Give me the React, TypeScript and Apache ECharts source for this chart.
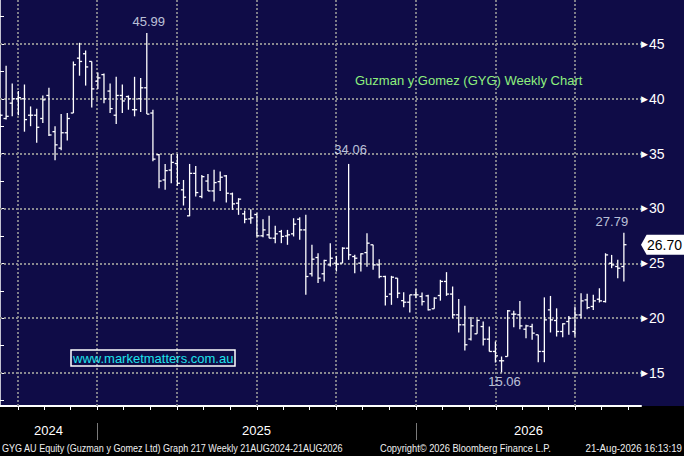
import React, { useEffect, useRef } from "react";
import * as echarts from "echarts";

// Weekly OHLC (one bar per week, oldest first)
const opens = [
  36.0, 38.2, 39.6, 40.0, 40.0, 38.5, 38.5, 38.2, 40.3, 37.0,
  35.5, 36.9, 38.7, 43.7, 44.1, 43.4, 41.6, 42.2, 40.7, 38.5,
  40.3, 40.2, 39.0, 40.0, 41.0, 38.7, 34.9, 32.6, 33.5, 34.1,
  31.7, 29.33, 33.2, 31.09, 32.5, 31.6, 32.45, 32.97, 31.33, 30.48,
  29.51, 29.05, 29.45, 27.51, 27.6, 27.29, 27.9, 27.5, 27.69, 29.02,
  28.05, 24.05, 25.53, 24.05, 24.86, 25.02, 25.02, 26.38, 25.62, 25.02,
  25.98, 26.69, 24.86, 23.8, 22.2, 23.65, 21.6, 21.46, 22.13, 21.98,
  22.04, 20.86, 22.07, 23.35, 22.2, 20.31, 19.4, 18.1, 18.58, 19.24,
  18.09, 16.97, 16.12, 16.51, 20.37, 20.31, 19.0, 19.24, 18.49, 16.97,
  20.76, 19.79, 18.79, 19.7, 18.79, 20.3, 21.67, 21.07, 21.73, 21.52,
  25.01, 24.71, 24.71,
];
const highs = [
  38.6, 43.0, 41.4, 40.7, 41.3, 39.3, 39.1, 40.3, 41.0, 37.5,
  38.6, 38.7, 43.4, 45.1, 44.4, 43.4, 42.4, 42.3, 41.4, 42.0,
  41.3, 40.3, 42.0, 41.9, 45.99, 39.0, 34.97, 34.06, 34.97, 34.97,
  32.6, 34.06, 33.88, 33.06, 33.15, 33.52, 33.37, 33.06, 31.45, 30.94,
  29.81, 29.93, 29.57, 29.02, 29.33, 28.42, 28.05, 28.05, 29.11, 29.2,
  29.42, 26.69, 25.93, 25.32, 26.84, 25.68, 26.47, 34.06, 25.78, 25.93,
  27.75, 26.69, 25.38, 23.86, 23.86, 23.65, 22.37, 22.13, 22.65, 22.34,
  22.13, 21.92, 23.5, 24.2, 22.89, 21.74, 21.13, 20.1, 19.9, 19.7,
  19.24, 17.88, 16.51, 20.76, 20.67, 21.58, 19.4, 19.49, 18.49, 21.9,
  22.03, 20.9, 19.55, 20.2, 21.07, 22.28, 22.22, 22.13, 22.73, 25.92,
  25.77, 25.32, 27.79,
];
const lows = [
  34.7, 38.1, 38.4, 38.5, 37.0, 37.5, 36.0, 37.8, 36.6, 34.4,
  35.3, 36.2, 38.7, 42.1, 41.2, 39.2, 40.9, 39.6, 38.7, 37.7,
  38.7, 39.0, 38.4, 38.8, 38.6, 34.3, 31.85, 31.7, 32.3, 32.06,
  30.27, 29.3, 31.09, 30.94, 31.6, 30.63, 31.6, 30.54, 29.87, 29.42,
  28.66, 28.6, 27.45, 27.38, 27.29, 26.84, 26.84, 26.69, 27.45, 27.14,
  22.13, 23.8, 23.2, 23.35, 24.71, 24.26, 25.02, 25.32, 24.1, 24.26,
  24.7, 24.41, 23.65, 21.16, 21.22, 21.83, 21.0, 20.52, 21.83, 21.16,
  20.71, 20.86, 21.6, 22.04, 20.0, 18.7, 17.06, 17.97, 18.58, 17.51,
  16.97, 15.96, 15.06, 16.51, 19.18, 19.0, 18.18, 18.03, 15.99, 15.99,
  18.7, 18.33, 18.27, 18.49, 18.33, 20.0, 20.82, 20.76, 21.43, 21.43,
  24.56, 23.65, 23.35,
];
const closes = [
  38.5, 38.4, 40.0, 40.1, 38.1, 38.5, 37.4, 39.9, 36.7, 35.8,
  36.9, 38.2, 43.1, 43.4, 42.9, 40.9, 41.9, 40.0, 39.1, 40.3,
  39.8, 40.0, 39.0, 41.0, 38.6, 34.5, 32.5, 33.45, 34.2, 32.3,
  31.03, 33.2, 31.45, 32.9, 31.6, 32.36, 32.85, 31.39, 30.42, 30.85,
  29.02, 29.15, 27.51, 28.05, 27.3, 27.69, 27.45, 27.6, 28.57, 28.05,
  23.8, 25.38, 23.65, 25.26, 25.47, 24.93, 26.38, 25.78, 25.47, 25.87,
  26.84, 24.86, 23.8, 21.98, 23.74, 22.28, 21.46, 22.13, 22.13, 21.52,
  20.77, 21.83, 23.35, 22.2, 20.31, 19.4, 17.58, 19.31, 19.8, 18.09,
  16.97, 16.57, 16.12, 20.67, 20.37, 19.3, 19.3, 18.64, 16.97, 19.85,
  19.85, 18.79, 19.49, 20.0, 20.3, 21.58, 20.97, 21.58, 21.58, 25.77,
  24.86, 24.56, 26.7,
];

// Week indices whose high / low carries a value label
const labelledHighWeeks = [24, 57, 102];
const labelledLowWeeks = [82];

// Axis ticks
const yTickLabels = [15, 20, 25, 30, 35, 40, 45];
const yMinorTicks = [12.5, 15, 17.5, 20, 22.5, 25, 27.5, 30, 32.5, 35, 37.5, 40, 42.5, 45, 47.5];
const quarterStartWeeks = [2.94, 15.86, 28.93, 42.0, 54.9, 68.0, 81.07, 93.98];
const years = ["2024", "2025", "2026"];
const yearStartWeeks = [15.86, 68.0];

const titleText = "Guzman y Gomez (GYG) Weekly Chart";
const siteText = "www.marketmatters.com.au";
const footerLeft = "GYG AU Equity (Guzman y Gomez Ltd) Graph 217 Weekly 21AUG2024-21AUG2026";
const footerMid = "Copyright\u00a9 2026 Bloomberg Finance L.P.";
const footerRight = "21-Aug-2026 16:13:19";

const X_MIN = 0;
const X_MAX = 104.8;
const Y_MIN = 12;
const Y_MAX = 49;

const NAVY = "#0f0c47";
const FONT = "'Liberation Sans', Arial, sans-serif";

export default function App() {
  const ref = useRef<HTMLDivElement>(null);

  useEffect(() => {
    document.body.style.margin = "0";
    if (!ref.current) return;
    const chart = echarts.init(ref.current, undefined, { renderer: "svg" });

    const rows = opens.map((o, i) => [i, o, highs[i], lows[i], closes[i]]);

    const monthTicks: number[] = [];
    quarterStartWeeks.forEach((q, k) => {
      const next = k + 1 < quarterStartWeeks.length ? quarterStartWeeks[k + 1] : q + 13.03;
      const step = (next - q) / 3;
      for (let j = 0; j < 3; j++) {
        const v = q + step * j;
        if (v >= X_MIN && v <= X_MAX) monthTicks.push(v);
      }
    });

    const bounds = [X_MIN, ...yearStartWeeks, X_MAX];
    const yearMids = years.map((_, k) => (bounds[k] + bounds[k + 1]) / 2);

    const lastIdx = closes.length - 1;

    const annot: any[] = [];
    labelledHighWeeks.forEach((w) => {
      annot.push({
        value: [w, highs[w]],
        label: {
          position: "top",
          distance: w === 57 ? 8 : 5,
          offset: w === lastIdx ? [-12, 0] : [2, 0],
        },
      });
    });
    labelledLowWeeks.forEach((w) => {
      annot.push({
        value: [w, lows[w]],
        label: { position: "bottom", distance: 3, offset: [3, 0] },
      });
    });

    const gridLines = [
      ...yTickLabels.map((v) => ({ yAxis: v })),
      ...quarterStartWeeks.map((v) => ({ xAxis: v })),
    ];

    const footerStyle = (text: string, align: string) => ({
      text,
      fill: "#f0f0f0",
      font: `10px ${FONT}`,
      verticalAlign: "middle",
      align,
    });

    chart.setOption({
      animation: false,
      backgroundColor: "#000",
      textStyle: { fontFamily: FONT },
      title: [
        {
          text: titleText,
          left: 355,
          top: 74,
          padding: 0,
          textStyle: { color: "#8ef07e", fontSize: 13, fontWeight: "normal", fontFamily: FONT },
        },
        {
          text: siteText,
          left: 71,
          top: 350,
          padding: [2, 2, 1, 2],
          borderColor: "#ffffff",
          borderWidth: 1.5,
          textStyle: { color: "#1de3ec", fontSize: 13, fontWeight: "normal", fontFamily: FONT },
        },
      ],
      graphic: [
        {
          type: "rect",
          z: -10,
          silent: true,
          shape: { x: 0, y: 0, width: 684, height: 406 },
          style: { fill: NAVY },
        },
        {
          type: "text",
          x: 2,
          y: 448,
          scaleX: 0.905,
          silent: true,
          style: footerStyle(footerLeft, "left"),
        },
        {
          type: "text",
          x: 380,
          y: 448,
          scaleX: 0.93,
          silent: true,
          style: footerStyle(footerMid, "left"),
        },
        {
          type: "text",
          x: 682,
          y: 448,
          scaleX: 0.97,
          silent: true,
          style: footerStyle(footerRight, "right"),
        },
      ],
      grid: { left: 0, right: 43, top: 0, bottom: 50, containLabel: false },
      xAxis: [
        {
          type: "value",
          min: X_MIN,
          max: X_MAX,
          position: "bottom",
          splitLine: { show: false },
          axisLine: { show: true, lineStyle: { color: "#ffffff", width: 2 } },
          axisTick: { show: true, customValues: monthTicks, length: 4, lineStyle: { color: "#ffffff", width: 1 } },
          axisLabel: { show: false },
        },
        {
          type: "value",
          min: X_MIN,
          max: X_MAX,
          position: "bottom",
          offset: 17,
          splitLine: { show: false },
          axisLine: { show: false },
          axisTick: { show: true, customValues: yearStartWeeks, length: 17, lineStyle: { color: "#7a7a7a", width: 1 } },
          axisLabel: {
            show: true,
            customValues: yearMids,
            margin: 1,
            color: "#ffffff",
            fontSize: 13,
            fontFamily: FONT,
            formatter: (v: number) => {
              const k = yearMids.findIndex((m) => Math.abs(m - v) < 1e-6);
              return k >= 0 ? years[k] : "";
            },
          },
        },
      ],
      yAxis: {
        type: "value",
        position: "right",
        min: Y_MIN,
        max: Y_MAX,
        splitLine: { show: false },
        axisLine: { show: true, lineStyle: { color: "#ffffff", width: 1.5 } },
        axisTick: { show: true, customValues: yMinorTicks, length: 4, lineStyle: { color: "#ffffff", width: 1 } },
        axisLabel: {
          show: true,
          customValues: yTickLabels,
          margin: 0,
          formatter: (v: number) => `{t|\u25B6}{n|${v}}`,
          rich: {
            t: { color: "#ffffff", fontSize: 9, fontFamily: "DejaVu Sans", padding: [0, 1, 0, 0] },
            n: { color: "#ffffff", fontSize: 14, fontFamily: FONT },
          },
        },
      },
      series: [
        {
          type: "custom",
          data: rows,
          encode: { x: 0, y: [1, 2, 3, 4] },
          clip: true,
          renderItem: (params: any, api: any) => {
            const x = api.value(0);
            const pH = api.coord([x, api.value(2)]);
            const pL = api.coord([x, api.value(3)]);
            const pO = api.coord([x, api.value(1)]);
            const pC = api.coord([x, api.value(4)]);
            const w = 2.6;
            const st = { stroke: "#ffffff", lineWidth: 1.3 };
            return {
              type: "group",
              children: [
                { type: "line", shape: { x1: pH[0], y1: pH[1], x2: pL[0], y2: pL[1] }, style: st },
                { type: "line", shape: { x1: pO[0] - w, y1: pO[1], x2: pO[0], y2: pO[1] }, style: st },
                { type: "line", shape: { x1: pC[0], y1: pC[1], x2: pC[0] + w, y2: pC[1] }, style: st },
              ],
            };
          },
          markLine: {
            silent: true,
            symbol: ["none", "none"],
            label: { show: false },
            lineStyle: { color: "#8a8a90", type: [2, 2], width: 1.8 },
            data: gridLines,
            z: 1,
          },
          markPoint: {
            silent: true,
            data: [
              {
                coord: [X_MAX, closes[lastIdx]],
                symbol: "path://M0,9L6,0H46V18H6Z",
                symbolSize: [43, 20],
                symbolKeepAspect: false,
                symbolOffset: ["50%", 0],
                itemStyle: { color: "#ffffff" },
                label: {
                  show: true,
                  position: "inside",
                  offset: [2, 0],
                  color: "#000000",
                  fontSize: 14,
                  fontFamily: FONT,
                  formatter: () => closes[lastIdx].toFixed(2),
                },
              },
            ],
          },
          z: 3,
        },
        {
          type: "scatter",
          data: annot,
          symbolSize: 0,
          silent: true,
          z: 4,
          label: {
            show: true,
            color: "#e8f2ff",
            fontSize: 13,
            fontFamily: FONT,
            formatter: (p: any) => Number(p.value[1]).toFixed(2),
          },
        },
      ],
    });

    return () => {
      chart.dispose();
    };
  }, []);

  return (
    <div
      ref={ref}
      style={{ position: "fixed", left: 0, top: 0, width: 684, height: 456 }}
    />
  );
}
